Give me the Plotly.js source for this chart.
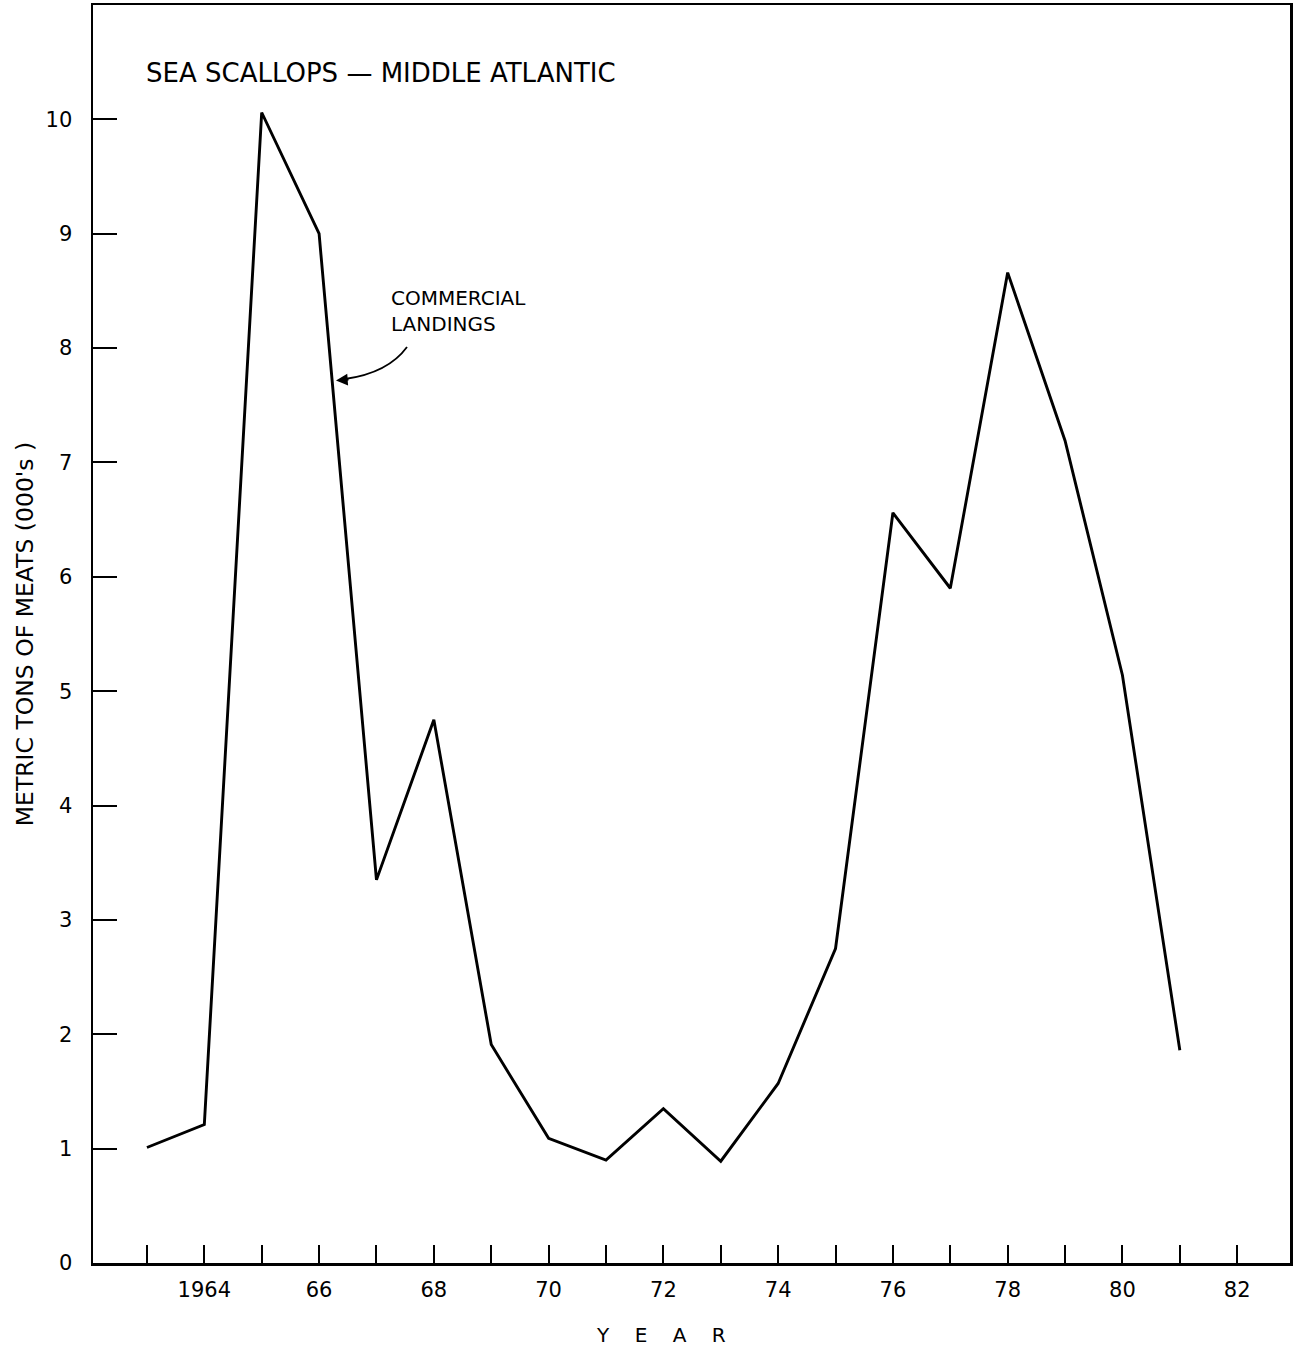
<!DOCTYPE html>
<html>
<head>
<meta charset="utf-8">
<script src="https://cdn.plot.ly/plotly-3.0.1.min.js"></script>
<style>html,body{margin:0;padding:0;background:#fff;}#chart{width:1298px;height:1351px;}</style>
</head>
<body>
<div id="chart"></div>
<script>
const years = [1963,1964,1965,1966,1967,1968,1969,1970,1971,1972,1973,1974,1975,1976,1977,1978,1979,1980,1981];
const landings = [1.01,1.21,10.06,9.0,3.35,4.75,1.91,1.09,0.9,1.35,0.89,1.57,2.75,6.56,5.9,8.66,7.19,5.14,1.86];
const tickYears = [1963,1964,1965,1966,1967,1968,1969,1970,1971,1972,1973,1974,1975,1976,1977,1978,1979,1980,1981,1982];
const tickLabels = ['','1964','','66','','68','','70','','72','','74','','76','','78','','80','','82'];
const yTicks = [0,1,2,3,4,5,6,7,8,9,10];

const font = 'DejaVu Sans, Liberation Sans, sans-serif';
const W = 1298, H = 1351;
const L = 93, R = 8, T = 5, B = 88;
const xr = [1962.06, 1982.92], yr = [0, 11];
// pixel -> data helpers (for annotation placement only)
const px2x = p => xr[0] + (p - L) / (W - L - R) * (xr[1] - xr[0]);
const py2y = p => yr[0] + (H - B - p) / (H - B - T) * (yr[1] - yr[0]);

const trace = {
  x: years, y: landings, type: 'scatter', mode: 'lines',
  line: {color: '#000', width: 2.9}, hoverinfo: 'skip', showlegend: false
};

const sp = '&nbsp;&nbsp;&nbsp;&nbsp;';

const layout = {
  width: W, height: H,
  margin: {l: L, r: R, t: T, b: B},
  paper_bgcolor: '#fff', plot_bgcolor: '#fff',
  font: {family: font, color: '#000', size: 21},
  title: {
    text: 'SEA SCALLOPS — MIDDLE ATLANTIC',
    x: 146/W, xanchor: 'left', xref: 'container',
    y: 1 - 73/H, yanchor: 'middle', yref: 'container',
    font: {family: font, size: 26, color: '#000'}
  },
  xaxis: {
    range: xr,
    tickmode: 'array', tickvals: tickYears, ticktext: tickLabels,
    ticks: 'inside', ticklen: 18, tickwidth: 2, tickcolor: '#000',
    showline: true, linecolor: '#000', linewidth: 2.5, mirror: true,
    showgrid: false, zeroline: false,
    tickfont: {family: font, size: 21, color: '#000'},
    ticklabelstandoff: 6
  },
  yaxis: {
    range: yr,
    tickmode: 'array', tickvals: yTicks,
    ticks: 'inside', ticklen: 24, tickwidth: 2, tickcolor: '#000',
    showline: true, linecolor: '#000', linewidth: 2.5, mirror: true,
    showgrid: false, zeroline: false,
    tickfont: {family: font, size: 21, color: '#000'},
    ticklabelstandoff: 14,
    title: {text: "METRIC TONS OF MEATS (000's )", font: {family: font, size: 23.5, color: '#000'}, standoff: 6}
  },
  shapes: [
    {
      type: 'path', xref: 'x', yref: 'y',
      path: `M ${px2x(407)},${py2y(347)} Q ${px2x(388)},${py2y(373)} ${px2x(345)},${py2y(379)}`,
      line: {color: '#000', width: 1.8}
    }
  ],
  annotations: [
    {
      x: px2x(336), y: py2y(380.5), xref: 'x', yref: 'y',
      ax: 14, ay: -1,
      text: '', showarrow: true, arrowhead: 2, arrowsize: 1.3, arrowwidth: 1.8, arrowcolor: '#000'
    },
    {
      x: px2x(389), y: py2y(284), xref: 'x', yref: 'y',
      xanchor: 'left', yanchor: 'top', align: 'left',
      text: 'COMMERCIAL<br>LANDINGS', showarrow: false,
      font: {family: font, size: 20, color: '#000'}
    },
    {
      x: 0, y: 0, xref: 'paper', yref: 'paper',
      xanchor: 'center', yanchor: 'middle',
      text: 'Y' + sp + 'E' + sp + 'A' + sp + 'R', showarrow: false,
      font: {family: font, size: 20, color: '#000'}
    }
  ]
};
// paper coords for the axis-title annotation are relative to plot area
layout.annotations[2].x = (661 - L) / (W - L - R);
layout.annotations[2].y = (H - B - 1335) / (H - B - T);

Plotly.newPlot('chart', [trace], layout, {displayModeBar: false, staticPlot: true});
</script>
</body>
</html>
